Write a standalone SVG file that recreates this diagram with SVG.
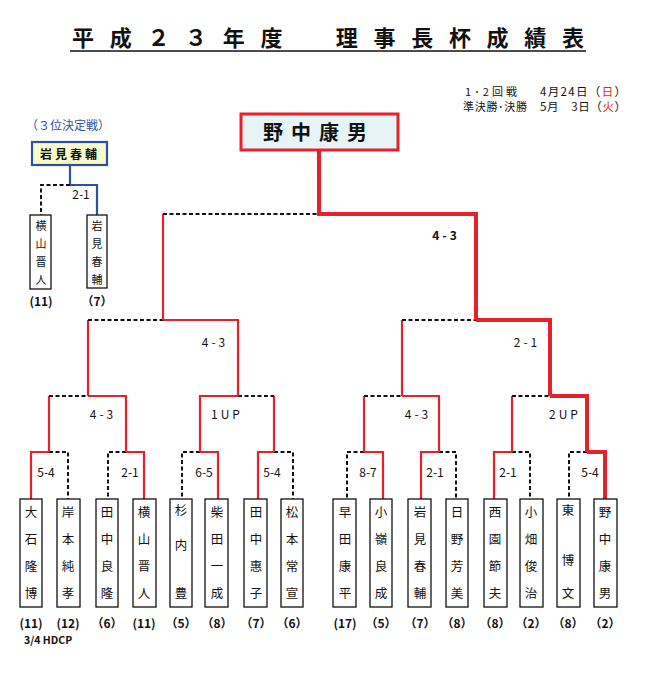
<svg xmlns="http://www.w3.org/2000/svg" width="652" height="674" viewBox="0 0 652 674">
<style>
text{font-family:"Noto Sans CJK JP","Liberation Sans",sans-serif;fill:#111}
.n{font-size:12.5px;text-anchor:middle}
.t{font-size:11px;text-anchor:middle}
.s{font-size:12px;text-anchor:middle;font-weight:bold}
.l{font-size:12px;text-anchor:middle}
.box{fill:#fff;stroke:#111;stroke-width:1.3}
.r{stroke:#e8202a;stroke-width:2.2;fill:none}
.R{stroke:#e8202a;stroke-width:4;fill:none}
.d{stroke:#111;stroke-width:2;stroke-dasharray:4 2.5;fill:none}
.b{stroke:#2f4fa6;stroke-width:2.2;fill:none}
</style>
<rect width="652" height="674" fill="#fff"/>
<g id="title">
<text x="72" y="46" font-size="22" font-weight="bold" textLength="512" lengthAdjust="spacing">平成２３年度　理事長杯成績表</text>
<line x1="70" y1="51" x2="586" y2="51" stroke="#111" stroke-width="1.5"/>
</g>
<g id="dates">
<text x="465" y="96" font-size="11" textLength="52" lengthAdjust="spacing">1･2回戦</text><text x="540" y="96" font-size="11.5" textLength="86" lengthAdjust="spacing">4月24日（<tspan fill="#e8202a">日</tspan>）</text>
<text x="463" y="111" font-size="11" textLength="64" lengthAdjust="spacing">準決勝･決勝</text><text x="540" y="111" font-size="11.5" textLength="86" lengthAdjust="spacing">5月　3日（<tspan fill="#e8202a">火</tspan>）</text>
</g>
<g id="champion">
<rect x="241" y="114" width="157" height="36" fill="#e6f4f8" stroke="#e8202a" stroke-width="3"/>
<text x="319" y="140" font-size="20" font-weight="bold" text-anchor="middle" letter-spacing="8">野中康男</text>
</g>
<g id="third">
<text x="68" y="130" font-size="12" style="fill:#2f4fa6" text-anchor="middle">（３位決定戦）</text>
<rect x="32" y="142" width="75" height="23" fill="#fafac8" stroke="#2f4fa6" stroke-width="2.2"/>
<text x="70" y="159" font-size="12" font-weight="bold" text-anchor="middle" letter-spacing="3">岩見春輔</text>
<path class="b" d="M70 165V185H97V215"/>
<path class="d" d="M70 185H41V215"/>
<text class="l" x="81" y="199">2-1</text>
<rect class="box" x="30" y="215" width="21" height="74"/>
<text class="t" x="41" y="230">横</text><text class="t" x="41" y="248">山</text><text class="t" x="41" y="266">晋</text><text class="t" x="41" y="284">人</text>
<rect class="box" x="87" y="215" width="20" height="73"/>
<text class="t" x="97" y="230">岩</text><text class="t" x="97" y="248">見</text><text class="t" x="97" y="266">春</text><text class="t" x="97" y="284">輔</text>
<text class="s" x="41" y="306">(11)</text><text class="s" x="97" y="306">（7）</text>
</g>
<g id="connectors">
<path class="r" d="M31 499V452H49"/><path class="d" d="M49 452H68V499"/>
<path class="r" d="M144 499V452H126"/><path class="d" d="M126 452H108V499"/>
<path class="r" d="M218 499V452H200"/><path class="d" d="M200 452H182V499"/>
<path class="r" d="M258 499V452H274"/><path class="d" d="M274 452H293V499"/>
<path class="r" d="M383 499V452H364"/><path class="d" d="M364 452H347V499"/>
<path class="r" d="M421 499V452H439"/><path class="d" d="M439 452H456V499"/>
<path class="r" d="M494 499V452H512"/><path class="d" d="M512 452H530V499"/>
<path class="R" d="M605 499V452H587"/><path class="d" d="M587 452H569V499"/>
<path class="r" d="M49 452V396"/><path class="r" d="M126 452V396H88"/><path class="d" d="M49 396H88"/>
<path class="r" d="M200 452V396H238"/><path class="r" d="M274 452V396"/><path class="d" d="M238 396H274"/>
<path class="r" d="M364 452V396"/><path class="d" d="M364 396H402"/><path class="r" d="M402 396H439V452"/>
<path class="r" d="M512 452V396"/><path class="d" d="M512 396H550"/><path class="R" d="M550 396H587V452"/>
<path class="r" d="M88 396V320"/><path class="d" d="M88 320H163"/><path class="r" d="M163 320H238V396"/>
<path class="r" d="M402 396V320"/><path class="d" d="M402 320H476"/><path class="R" d="M550 396V320H476"/>
<path class="r" d="M163 320V214"/><path class="d" d="M163 214H319"/><path class="R" d="M476 320V214H319V150"/>
</g>
<g id="scores">
<text class="l" x="46" y="477">5-4</text><text class="l" x="130" y="477">2-1</text><text class="l" x="204" y="477">6-5</text><text class="l" x="272" y="477">5-4</text>
<text class="l" x="368" y="477">8-7</text><text class="l" x="435" y="477">2-1</text><text class="l" x="508" y="477">2-1</text><text class="l" x="590" y="477">5-4</text>
<text class="l" x="103" y="419" letter-spacing="3">4-3</text><text class="l" x="227" y="419" letter-spacing="3">1UP</text>
<text class="l" x="418" y="419" letter-spacing="3">4-3</text><text class="l" x="565" y="419" letter-spacing="3">2UP</text>
<text class="l" x="215" y="347" letter-spacing="3">4-3</text><text class="l" x="527" y="347" letter-spacing="3">2-1</text>
<text class="s" x="446" y="240" letter-spacing="3">4-3</text>
</g>
<g id="p1"><rect class="box" x="20" y="499" width="22" height="108"/><text class="n" x="31" y="517">大</text><text class="n" x="31" y="544">石</text><text class="n" x="31" y="571">隆</text><text class="n" x="31" y="598">博</text><text class="s" x="31" y="628">(11)</text></g>
<g id="p2"><rect class="box" x="57" y="499" width="23" height="108"/><text class="n" x="68" y="517">岸</text><text class="n" x="68" y="544">本</text><text class="n" x="68" y="571">純</text><text class="n" x="68" y="598">孝</text><text class="s" x="68" y="628">(12)</text></g>
<g id="p3"><rect class="box" x="96" y="499" width="22" height="108"/><text class="n" x="107" y="517">田</text><text class="n" x="107" y="544">中</text><text class="n" x="107" y="571">良</text><text class="n" x="107" y="598">隆</text><text class="s" x="107" y="628">（6）</text></g>
<g id="p4"><rect class="box" x="133" y="499" width="23" height="108"/><text class="n" x="144" y="517">横</text><text class="n" x="144" y="544">山</text><text class="n" x="144" y="571">晋</text><text class="n" x="144" y="598">人</text><text class="s" x="144" y="628">(11)</text></g>
<g id="p5"><rect class="box" x="170" y="499" width="22" height="108"/><text class="n" x="181" y="515">杉</text><text class="n" x="181" y="550">内</text><text class="n" x="181" y="598">豊</text><text class="s" x="181" y="628">（5）</text></g>
<g id="p6"><rect class="box" x="205" y="499" width="23" height="108"/><text class="n" x="217" y="517">柴</text><text class="n" x="217" y="544">田</text><text class="n" x="217" y="571">一</text><text class="n" x="217" y="598">成</text><text class="s" x="217" y="628">（8）</text></g>
<g id="p7"><rect class="box" x="244" y="499" width="23" height="108"/><text class="n" x="256" y="517">田</text><text class="n" x="256" y="544">中</text><text class="n" x="256" y="571">惠</text><text class="n" x="256" y="598">子</text><text class="s" x="256" y="628">（7）</text></g>
<g id="p8"><rect class="box" x="281" y="499" width="22" height="108"/><text class="n" x="292" y="517">松</text><text class="n" x="292" y="544">本</text><text class="n" x="292" y="571">常</text><text class="n" x="292" y="598">宣</text><text class="s" x="292" y="628">（6）</text></g>
<g id="p9"><rect class="box" x="333" y="499" width="23" height="108"/><text class="n" x="345" y="517">早</text><text class="n" x="345" y="544">田</text><text class="n" x="345" y="571">康</text><text class="n" x="345" y="598">平</text><text class="s" x="345" y="628">(17)</text></g>
<g id="p10"><rect class="box" x="370" y="499" width="22" height="108"/><text class="n" x="381" y="517">小</text><text class="n" x="381" y="544">嶺</text><text class="n" x="381" y="571">良</text><text class="n" x="381" y="598">成</text><text class="s" x="381" y="628">（5）</text></g>
<g id="p11"><rect class="box" x="408" y="499" width="23" height="108"/><text class="n" x="420" y="517">岩</text><text class="n" x="420" y="544">見</text><text class="n" x="420" y="571">春</text><text class="n" x="420" y="598">輔</text><text class="s" x="420" y="628">（7）</text></g>
<g id="p12"><rect class="box" x="446" y="499" width="22" height="108"/><text class="n" x="457" y="517">日</text><text class="n" x="457" y="544">野</text><text class="n" x="457" y="571">芳</text><text class="n" x="457" y="598">美</text><text class="s" x="457" y="628">（8）</text></g>
<g id="p13"><rect class="box" x="484" y="499" width="23" height="108"/><text class="n" x="495" y="517">西</text><text class="n" x="495" y="544">園</text><text class="n" x="495" y="571">節</text><text class="n" x="495" y="598">夫</text><text class="s" x="495" y="628">（8）</text></g>
<g id="p14"><rect class="box" x="520" y="499" width="23" height="108"/><text class="n" x="531" y="517">小</text><text class="n" x="531" y="544">畑</text><text class="n" x="531" y="571">俊</text><text class="n" x="531" y="598">治</text><text class="s" x="531" y="628">（2）</text></g>
<g id="p15"><rect class="box" x="557" y="499" width="23" height="108"/><text class="n" x="568" y="515">東</text><text class="n" x="568" y="565">博</text><text class="n" x="568" y="598">文</text><text class="s" x="568" y="628">（8）</text></g>
<g id="p16"><rect class="box" x="594" y="499" width="23" height="108"/><text class="n" x="605" y="517">野</text><text class="n" x="605" y="544">中</text><text class="n" x="605" y="571">康</text><text class="n" x="605" y="598">男</text><text class="s" x="605" y="628">（2）</text></g>
<text x="24" y="644" font-size="10.5" font-weight="bold">3/4 HDCP</text>
</svg>
